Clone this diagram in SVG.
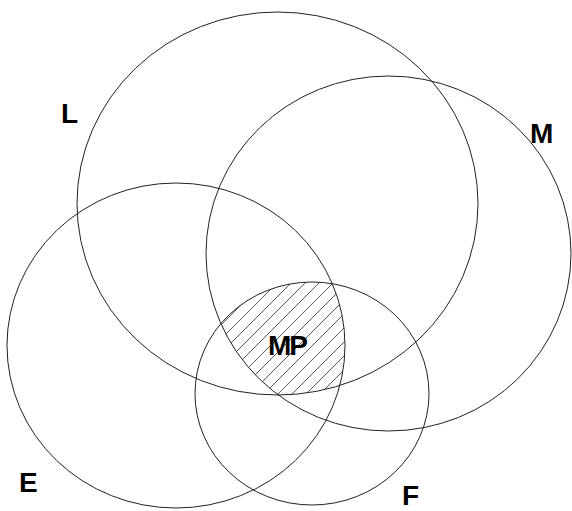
<svg xmlns="http://www.w3.org/2000/svg" width="572" height="511" viewBox="0 0 572 511">
<style>
.set{fill:none;stroke:#222;stroke-width:1}
.lbl{font-family:"Liberation Sans",Arial,sans-serif;font-weight:bold;font-size:28px;fill:#000}
</style>
<defs>
<pattern id="hatch" patternUnits="userSpaceOnUse" width="14" height="14">
<path d="M0,14 L14,0 M-1,1 L1,-1 M13,15 L15,13" stroke="#444" stroke-width="0.9"/>
</pattern>
<clipPath id="cL"><ellipse cx="277.5" cy="203.5" rx="200.5" ry="191.5"/></clipPath>
<clipPath id="cM"><ellipse cx="388.5" cy="253.5" rx="182.5" ry="177.5"/></clipPath>
<clipPath id="cE"><ellipse cx="176" cy="345.5" rx="169" ry="162.5"/></clipPath>
<clipPath id="cF"><ellipse cx="312" cy="393.5" rx="117" ry="111.5"/></clipPath>
</defs>
<rect width="572" height="511" fill="#fff"/>
<g id="MP">
<g clip-path="url(#cL)"><g clip-path="url(#cM)"><g clip-path="url(#cE)">
<rect x="150" y="250" width="250" height="200" fill="url(#hatch)" clip-path="url(#cF)"/>
</g></g></g>
<text class="lbl" x="268" y="355" letter-spacing="-2">MP</text>
</g>
<g id="L">
<ellipse class="set" cx="277.5" cy="203.5" rx="200.5" ry="191.5"/>
<text class="lbl" x="61" y="123">L</text>
</g>
<g id="M">
<ellipse class="set" cx="388.5" cy="253.5" rx="182.5" ry="177.5"/>
<text class="lbl" x="530" y="143">M</text>
</g>
<g id="E">
<ellipse class="set" cx="176" cy="345.5" rx="169" ry="162.5"/>
<text class="lbl" x="19" y="492">E</text>
</g>
<g id="F">
<ellipse class="set" cx="312" cy="393.5" rx="117" ry="111.5"/>
<text class="lbl" x="402" y="505">F</text>
</g>
</svg>
